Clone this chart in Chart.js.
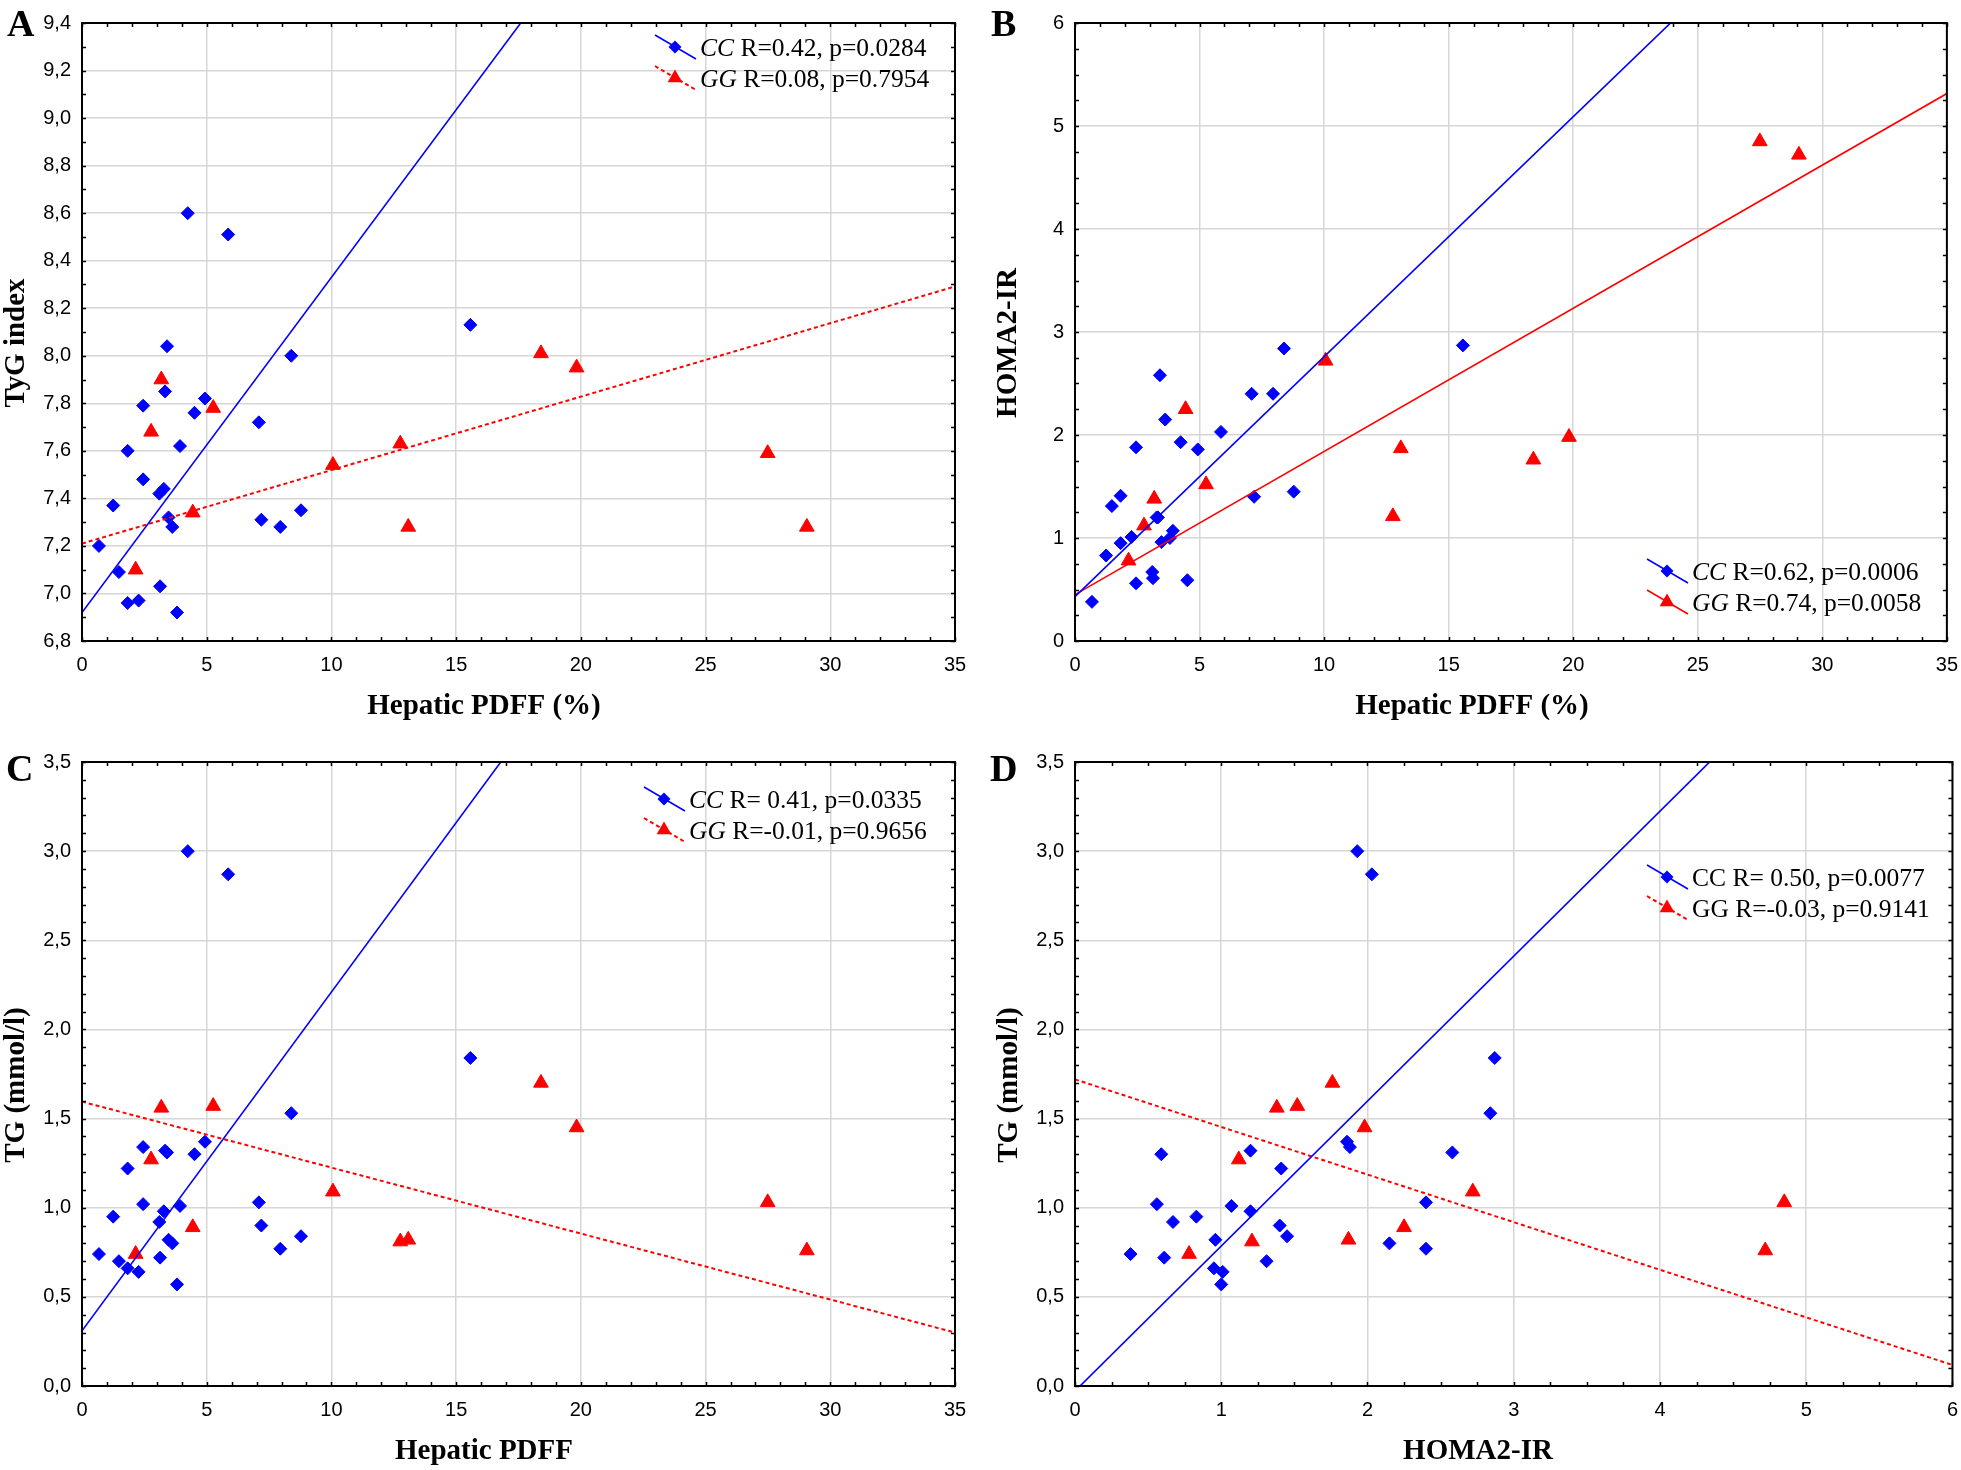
<!DOCTYPE html>
<html>
<head>
<meta charset="utf-8">
<script src="https://cdn.jsdelivr.net/npm/chart.js@4.4.0/dist/chart.umd.min.js"></script>
<style>
  html, body { margin: 0; padding: 0; background: #fff; overflow: hidden; }
  #wrap { position: relative; width: 1961px; height: 1470px; overflow: hidden; }
  .panel { position: absolute; height: 735px; }
</style>
</head>
<body>
<div id="wrap">
  <div class="panel" style="left:0;top:0;width:980px"><canvas id="chA" width="980" height="735"></canvas></div>
  <div class="panel" style="left:980px;top:0;width:990px"><canvas id="chB" width="990" height="735"></canvas></div>
  <div class="panel" style="left:0;top:735px;width:980px"><canvas id="chC" width="980" height="735"></canvas></div>
  <div class="panel" style="left:980px;top:735px;width:990px"><canvas id="chD" width="990" height="735"></canvas></div>
</div>
<script>
/* Hepatic PDFF vs TyG / HOMA2-IR / TG, CC and GG genotypes */

// CC subjects, ordered by PDFF
var ccPdff = [0.68, 1.25, 1.48, 1.83, 1.83, 2.27, 2.45, 2.45, 3.10, 3.13, 3.28, 3.33, 3.41, 3.47, 3.62, 3.81, 3.93, 4.24, 4.51, 4.93, 5.86, 7.09, 7.19, 7.95, 8.39, 8.78, 15.57];
var ccTyg  = [7.20, 7.37, 7.09, 7.60, 6.96, 6.97, 7.79, 7.48, 7.42, 7.03, 7.44, 7.85, 8.04, 7.32, 7.28, 6.92, 7.62, 8.60, 7.76, 7.82, 8.51, 7.72, 7.31, 7.28, 8.00, 7.35, 8.13];
var ccHoma = [0.38, 0.83, 1.31, 1.41, 0.95, 1.01, 1.88, 0.56, 0.67, 0.61, 1.20, 1.20, 2.58, 0.96, 2.15, 1.00, 1.07, 1.93, 0.59, 1.86, 2.03, 2.40, 1.40, 2.40, 2.84, 1.45, 2.87];
var ccTg   = [0.74, 0.95, 0.70, 1.22, 0.66, 0.64, 1.34, 1.02, 0.92, 0.72, 0.98, 1.32, 1.31, 0.82, 0.80, 0.57, 1.01, 3.00, 1.30, 1.37, 2.87, 1.03, 0.90, 0.77, 1.53, 0.84, 1.84];

// GG subjects
var ggPdff = [2.15, 2.77, 3.18, 4.44, 5.26, 10.06, 12.76, 13.08, 18.40, 19.83, 27.49, 29.06];
var ggTyg  = [7.10, 7.68, 7.90, 7.34, 7.78, 7.54, 7.63, 7.28, 8.01, 7.95, 7.59, 7.28];
var ggHoma = [0.78, 1.12, 1.38, 2.25, 1.52, 2.72, 1.21, 1.87, 1.76, 1.98, 4.85, 4.72];
var ggTg   = [0.74, 1.27, 1.56, 0.89, 1.57, 1.09, 0.81, 0.82, 1.70, 1.45, 1.03, 0.76];

// fitted lines, panels A, B, C, D
var ccFitIntercept = [6.92, 0.43, 0.31, -0.028];
var ccFitSlope     = [0.141, 0.233, 0.19, 0.813];
var ggFitIntercept = [7.21, 0.45, 1.595, 1.72];
var ggFitSlope     = [0.0309, 0.139, -0.037, -0.267];

var ccLegend = ['R=0.42, p=0.0284', 'R=0.62, p=0.0006', 'R= 0.41, p=0.0335', 'R= 0.50, p=0.0077'];
var ggLegend = ['R=0.08, p=0.7954', 'R=0.74, p=0.0058', 'R=-0.01, p=0.9656', 'R=-0.03, p=0.9141'];

var xTicksPdff = [0, 35, 5];
var xTicksHoma = [0, 6, 1];

(function () {
  'use strict';

  var BLUE = '#0000ff';
  var RED = '#ff0000';
  var SANS = '"Liberation Sans", Arial, sans-serif';
  var SERIF = '"Liberation Serif", "Times New Roman", serif';

  function pts(xs, ys) {
    return xs.map(function (x, i) { return { x: x, y: ys[i] }; });
  }

  function fitLine(a, b, x0, x1) {
    return [{ x: x0, y: a + b * x0 }, { x: x1, y: a + b * x1 }];
  }

  function comma(v) { return v.toFixed(1).replace('.', ','); }
  function whole(v) { return String(Math.round(v)); }

  function diamond(ctx, x, y, r) {
    ctx.beginPath();
    ctx.moveTo(x, y - r); ctx.lineTo(x + r, y); ctx.lineTo(x, y + r); ctx.lineTo(x - r, y);
    ctx.closePath(); ctx.fill();
  }
  function triangle(ctx, x, y, r) {
    ctx.beginPath();
    ctx.moveTo(x, y - r); ctx.lineTo(x + r * 0.866, y + r / 2); ctx.lineTo(x - r * 0.866, y + r / 2);
    ctx.closePath(); ctx.fill();
  }

  var deco = {
    id: 'deco',
    afterDraw: function (chart) {
      var o = chart.options.plugins.deco;
      var ctx = chart.ctx, a = chart.chartArea;
      var xs = chart.scales.x, ys = chart.scales.y;
      var i, n, p;
      ctx.save();

      // inner minor ticks on all four sides
      ctx.strokeStyle = '#000';
      ctx.lineWidth = 1.5;
      ctx.beginPath();
      n = Math.round((xs.max - xs.min) / o.xMinor);
      for (i = 0; i <= n; i++) {
        p = Math.round(xs.getPixelForValue(xs.min + i * o.xMinor)) + 0.5;
        ctx.moveTo(p, a.top); ctx.lineTo(p, a.top + 4);
        ctx.moveTo(p, a.bottom); ctx.lineTo(p, a.bottom - 4);
      }
      n = Math.round((ys.max - ys.min) / o.yMinor);
      for (i = 0; i <= n; i++) {
        p = Math.round(ys.getPixelForValue(ys.min + i * o.yMinor)) + 0.5;
        ctx.moveTo(a.left, p); ctx.lineTo(a.left + 4, p);
        ctx.moveTo(a.right, p); ctx.lineTo(a.right - 4, p);
      }
      ctx.stroke();
      ctx.lineWidth = 2;
      ctx.strokeRect(a.left, a.top, a.right - a.left, a.bottom - a.top);

      // panel letter
      ctx.fillStyle = '#000';
      ctx.textAlign = 'left';
      ctx.textBaseline = 'alphabetic';
      ctx.font = 'bold 38px ' + SERIF;
      ctx.fillText(o.letter, o.letterX, o.letterY);

      // axis titles
      ctx.font = 'bold 29px ' + SERIF;
      ctx.textAlign = 'center';
      ctx.fillText(o.xTitle, o.xTitleX, o.xTitleY);
      ctx.save();
      ctx.translate(o.yTitleX, (a.top + a.bottom) / 2 + 11);
      ctx.rotate(-Math.PI / 2);
      ctx.textBaseline = 'middle';
      ctx.fillText(o.yTitle, 0, 0);
      ctx.restore();

      // legend
      var rows = [
        { color: BLUE, dash: [], mark: diamond, r: 6.5, tag: 'CC', text: ccLegend[o.idx] },
        { color: RED, dash: o.ggDash, mark: triangle, r: 8.5, tag: 'GG', text: ggLegend[o.idx] }
      ];
      rows.forEach(function (row, k) {
        var lx = o.legendX, ly = o.legendY + k * 31;
        ctx.strokeStyle = row.color;
        ctx.fillStyle = row.color;
        ctx.lineWidth = row.dash.length ? 2 : 1.5;
        ctx.setLineDash(row.dash);
        ctx.beginPath();
        ctx.moveTo(lx - 20, ly - 12);
        ctx.lineTo(lx + 21, ly + 12);
        ctx.stroke();
        ctx.setLineDash([]);
        row.mark(ctx, lx, ly, row.r);
        ctx.fillStyle = '#000';
        ctx.textAlign = 'left';
        ctx.textBaseline = 'alphabetic';
        ctx.font = (o.italicTag ? 'italic ' : '') + '25.5px ' + SERIF;
        ctx.fillText(row.tag, lx + 25, ly + 9);
        var w = ctx.measureText(row.tag).width;
        ctx.font = '25.5px ' + SERIF;
        ctx.fillText(' ' + row.text, lx + 25 + w, ly + 9);
      });
      ctx.restore();
    }
  };

  function axis(range, fmt, pad) {
    return {
      type: 'linear',
      min: range[0],
      max: range[1],
      ticks: {
        stepSize: range[2],
        autoSkip: false,
        maxRotation: 0,
        padding: pad,
        color: '#000',
        font: { family: SANS, size: 20 },
        callback: function (v) { return fmt(v); }
      },
      grid: { color: '#d6d6d6', lineWidth: 1.5, drawTicks: false },
      border: { display: false }
    };
  }

  function panel(p) {
    var xAx = axis(p.xRange, whole, 12);
    var yAx = axis(p.yRange, p.yFmt, 11);
    xAx.afterFit = function (s) { s.height = p.xBox; };
    yAx.afterFit = function (s) { s.width = p.yBox; };

    new Chart(document.getElementById(p.id), {
      type: 'scatter',
      data: {
        datasets: [
          {
            type: 'line',
            data: fitLine(ccFitIntercept[p.idx], ccFitSlope[p.idx], p.xRange[0], p.xRange[1]),
            borderColor: BLUE, borderWidth: 1.6, pointRadius: 0, fill: false
          },
          {
            type: 'line',
            data: fitLine(ggFitIntercept[p.idx], ggFitSlope[p.idx], p.xRange[0], p.xRange[1]),
            borderColor: RED, borderWidth: p.ggDash.length ? 2 : 1.6, borderDash: p.ggDash,
            pointRadius: 0, fill: false
          },
          {
            data: pts(p.ccX, p.ccY),
            pointStyle: 'rectRot', pointRadius: 6.5, borderWidth: 1,
            backgroundColor: BLUE, borderColor: BLUE
          },
          {
            data: pts(p.ggX, p.ggY),
            pointStyle: 'triangle', pointRadius: 8.5, borderWidth: 1,
            backgroundColor: RED, borderColor: RED
          }
        ]
      },
      options: {
        responsive: false,
        animation: false,
        events: [],
        layout: { padding: { top: p.top, right: p.right, left: 0, bottom: 0 } },
        plugins: {
          legend: { display: false },
          tooltip: { enabled: false },
          deco: p
        },
        scales: { x: xAx, y: yAx }
      },
      plugins: [deco]
    });
  }

  panel({
    id: 'chA', idx: 0, letter: 'A', letterX: 7, letterY: 36,
    ccX: ccPdff, ccY: ccTyg, ggX: ggPdff, ggY: ggTyg,
    xRange: xTicksPdff, yRange: [6.8, 9.4, 0.2], yFmt: comma, xMinor: 1, yMinor: 0.1,
    top: 15, right: 25, yBox: 82, xBox: 94,
    xTitle: 'Hepatic PDFF (%)', xTitleX: 484, xTitleY: 714,
    yTitle: 'TyG index', yTitleX: 17,
    legendX: 675, legendY: 47, italicTag: true, ggDash: [4, 3]
  });

  panel({
    id: 'chB', idx: 1, letter: 'B', letterX: 11, letterY: 36,
    ccX: ccPdff, ccY: ccHoma, ggX: ggPdff, ggY: ggHoma,
    xRange: xTicksPdff, yRange: [0, 6, 1], yFmt: whole, xMinor: 1, yMinor: 0.25,
    top: 15, right: 17, yBox: 95, xBox: 94,
    xTitle: 'Hepatic PDFF (%)', xTitleX: 492, xTitleY: 714,
    yTitle: 'HOMA2-IR', yTitleX: 29,
    legendX: 687, legendY: 571, italicTag: true, ggDash: []
  });

  panel({
    id: 'chC', idx: 2, letter: 'C', letterX: 6, letterY: 46,
    ccX: ccPdff, ccY: ccTg, ggX: ggPdff, ggY: ggTg,
    xRange: xTicksPdff, yRange: [0, 3.5, 0.5], yFmt: comma, xMinor: 1, yMinor: 0.1,
    top: 27, right: 25, yBox: 82, xBox: 84,
    xTitle: 'Hepatic PDFF', xTitleX: 484, xTitleY: 724,
    yTitle: 'TG (mmol/l)', yTitleX: 17,
    legendX: 664, legendY: 64, italicTag: true, ggDash: [4, 3]
  });

  panel({
    id: 'chD', idx: 3, letter: 'D', letterX: 10, letterY: 46,
    ccX: ccHoma, ccY: ccTg, ggX: ggHoma, ggY: ggTg,
    xRange: xTicksHoma, yRange: [0, 3.5, 0.5], yFmt: comma, xMinor: 0.25, yMinor: 0.1,
    top: 27, right: 17, yBox: 95, xBox: 84,
    xTitle: 'HOMA2-IR', xTitleX: 498, xTitleY: 724,
    yTitle: 'TG (mmol/l)', yTitleX: 30,
    legendX: 687, legendY: 142, italicTag: false, ggDash: [4, 3]
  });
})();
</script>
</body>
</html>
